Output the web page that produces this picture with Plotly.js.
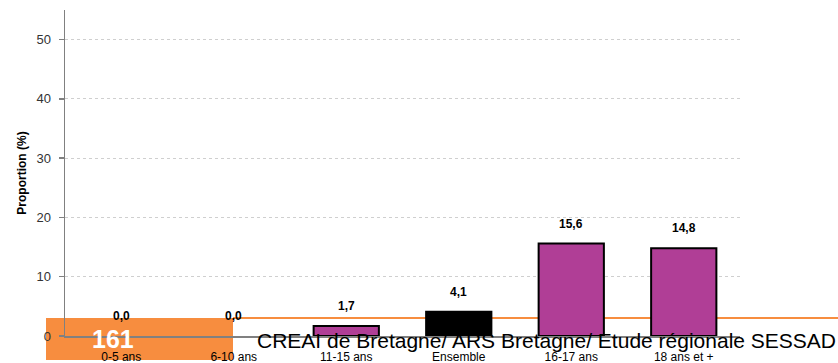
<!DOCTYPE html>
<html>
<head>
<meta charset="utf-8">
<script src="https://cdn.plot.ly/plotly-3.0.1.min.js"></script>
<style>html,body{margin:0;padding:0;background:#fff;}#chart{width:838px;height:363px;}</style>
</head>
<body>
<div id="chart"></div>
<script>
const categories = ['0-5 ans', '6-10 ans', '11-15 ans', 'Ensemble', '16-17 ans', '18 ans et +'];
const values = [0.0, 0.0, 1.7, 4.1, 15.6, 14.8];
const barColors = ['#B03E96', '#B03E96', '#B03E96', '#000000', '#B03E96', '#B03E96'];
const yTicks = [0, 10, 20, 30, 40, 50];
const sourceText = 'CREAI de Bretagne/ ARS Bretagne/ Etude régionale SESSAD';
const badgeText = '161';

const FONT = 'Liberation Sans, Arial, sans-serif';

const trace = {
  type: 'bar',
  x: categories,
  y: values,
  width: 0.58,
  marker: {color: barColors, line: {color: '#000000', width: values.map(v => v === 0 ? 0 : 2)}},
  hoverinfo: 'none'
};

const annotations = categories.map((c, i) => ({
  x: c, y: values[i], xref: 'x', yref: 'y',
  text: values[i].toFixed(1).replace('.', ','),
  showarrow: false, yanchor: 'bottom', yshift: 11,
  font: {family: FONT, size: 12, color: '#000', weight: 'bold'}
}));

annotations.push({
  xref: 'paper', yref: 'paper', x: (113 - 65) / 675, y: (336 - 339) / 326,
  text: '<b>' + badgeText + '</b>', showarrow: false, xanchor: 'center', yanchor: 'middle',
  font: {family: FONT, size: 25, color: '#ffffff'}
});
annotations.push({
  xref: 'paper', yref: 'paper', x: (255 - 65) / 675, y: (336 - 340) / 326,
  text: sourceText, showarrow: false, xanchor: 'left', yanchor: 'middle',
  font: {family: FONT, size: 21, color: '#000000'}
});

const layout = {
  width: 838, height: 363,
  margin: {l: 65, r: 98, t: 10, b: 27},
  paper_bgcolor: '#ffffff', plot_bgcolor: '#ffffff',
  showlegend: false,
  font: {family: FONT, size: 12, color: '#333333'},
  xaxis: {
    type: 'category', categoryorder: 'array', categoryarray: categories,
    showline: true, linecolor: '#808080', linewidth: 1.5,
    ticks: '', showgrid: false, zeroline: false,
    tickfont: {family: FONT, size: 12, color: '#000'},
    ticklabelstandoff: 9,
    range: [-0.5, 5.5]
  },
  yaxis: {
    range: [0, 55], tickvals: yTicks, ticktext: yTicks.map(String),
    showline: true, linecolor: '#808080', linewidth: 1.5,
    ticks: 'outside', ticklen: 5, tickcolor: '#808080', tickwidth: 1.5,
    showgrid: true, gridcolor: '#CFCFCF', griddash: 'dot', gridwidth: 1,
    zeroline: false,
    tickfont: {family: FONT, size: 13, color: '#333333'},
    ticklabelstandoff: 5,
    title: {text: '<b>Proportion (%)</b>', font: {family: FONT, size: 12, color: '#000'}, standoff: 7}
  },
  shapes: [
    {type: 'rect', xref: 'paper', yref: 'paper', layer: 'below',
     x0: (46 - 65) / 675, x1: (233 - 65) / 675, y0: (336 - 360) / 326, y1: (336 - 318) / 326,
     fillcolor: '#F78D3F', line: {width: 0}},
    {type: 'line', xref: 'paper', yref: 'paper', layer: 'below',
     x0: (233 - 65) / 675, x1: (838 - 65) / 675, y0: (336 - 318) / 326, y1: (336 - 318) / 326,
     line: {color: '#F78D3F', width: 2}}
  ],
  annotations: annotations
};

Plotly.newPlot('chart', [trace], layout, {displayModeBar: false, staticPlot: true});
</script>
</body>
</html>
